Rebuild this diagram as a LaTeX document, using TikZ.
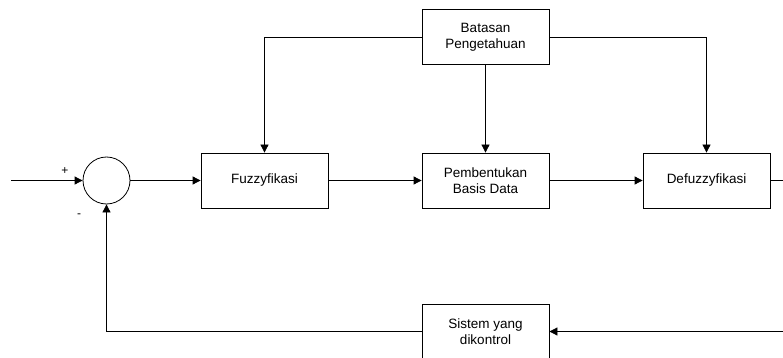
\documentclass[tikz,border=0pt]{standalone}
\usepackage{fontspec}
\setmainfont{Liberation Sans}
\usetikzlibrary{arrows.meta}
\tikzset{
  blok/.style={draw, minimum width=127pt, minimum height=55pt, align=center,
    inner sep=0pt, font=\fontsize{13.5}{16}\selectfont},
  jalur/.style={-{Triangle[length=8pt,width=8pt]}},
  tanda/.style={font=\fontsize{12}{14}\selectfont, inner sep=0pt},
}
\begin{document}
\begin{tikzpicture}[x=1pt,y=-1pt,line width=0.8pt]
      \useasboundingbox (0,0) rectangle (783,358);

      \node[draw,circle,minimum size=47pt,inner sep=0pt] (sum) at (106.5,180.5) {};
      \node[blok] (fuzzy) at (264.5,180.5) {Fuzzyfikasi};
      \node[blok] (basis) at (485.5,180.5) {Pembentukan\\Basis Data};
      \node[blok] (defuzzy) at (706.5,180.5) {Defuzzyfikasi};
      \node[blok] (batasan) at (485.5,37) {Batasan\\Pengetahuan};
      \node[blok] (sistem) at (485.5,331.5) {Sistem yang\\dikontrol};

      \node[tanda] (plus) at (65,171) {+};
      \node[tanda] (minus) at (79,216) {-};

      \coordinate (masuk) at (11,180.5);
      \coordinate (kanan) at (795,180.5);

      \draw[jalur] (masuk) -- (sum);
      \draw[jalur] (sum) -- (fuzzy);
      \draw[jalur] (fuzzy) -- (basis);
      \draw[jalur] (basis) -- (defuzzy);
      \draw[jalur] (batasan) -- (basis);
      \draw[jalur] (batasan.west) -| (fuzzy.north);
      \draw[jalur] (batasan.east) -| (defuzzy.north);
      \draw[jalur] (defuzzy.east) -- (kanan) |- (sistem.east);
      \draw[jalur] (sistem.west) -| (sum.south);
    \end{tikzpicture}
\end{document}
